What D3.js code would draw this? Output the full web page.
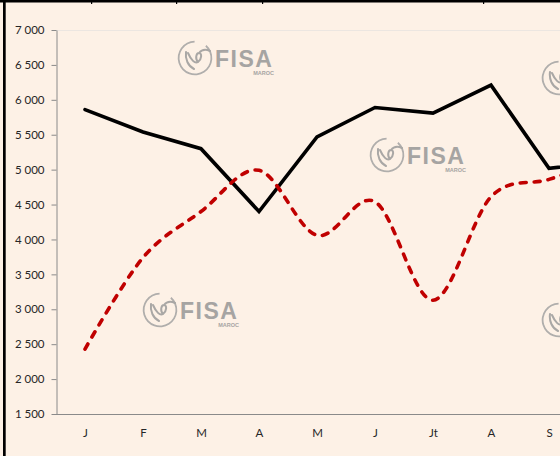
<!DOCTYPE html>
<html>
<head>
<meta charset="utf-8">
<script src="https://cdn.jsdelivr.net/npm/d3@7"></script>
<style>
  html, body { margin: 0; padding: 0; background: #fdf1e6; overflow: hidden; }
  svg { display: block; }
  .tick text { font-family: Lato, "Open Sans", sans-serif; font-size: 11.5px; fill: #262626; }
</style>
</head>
<body>
<div id="container"></div>
<script>
const months = ["J", "F", "M", "A", "M", "J", "Jt", "A", "S", "O"];
const seriesBlack = [5860, 5540, 5300, 4400, 5470, 5890, 5810, 6210, 5020, 5100];
const seriesRed = [2430, 3740, 4400, 4990, 4060, 4540, 3130, 4610, 4860, 5150];
const yTicks = [1500, 2000, 2500, 3000, 3500, 4000, 4500, 5000, 5500, 6000, 6500, 7000];

const W = 560, H = 456;
const plotLeft = 56, plotTop = 30, plotBottom = 414, step = 58;

const setAttrs = (el, attrs) =>
  Object.entries(attrs).reduce((acc, [key, val]) => acc.attr(key, val), el);

const svg = d3.select("#container").append("svg");
setAttrs(svg, { width: W, height: H });

svg.append("rect").attr("width", W).attr("height", H).attr("fill", "#fdf1e6");

// watermark logos
const logos = [[178, 40], [370, 137], [143, 292], [542, 60], [542, 302]];
const drawLogo = ([x, y]) => {
  const g = svg.append("g").attr("transform", `translate(${x},${y})`);
  const arc = d3.arc().innerRadius(15.5).outerRadius(17.3)
    .startAngle(0.55).endAngle(2 * Math.PI - 0.2);
  setAttrs(g.append("path"), { d: arc(), transform: "translate(17,18) rotate(10)", fill: "#b0aeac" });
  setAttrs(g.append("path"), {
    d: "M8,12 C7,19 10,26 16,29 M10,13 C13,20 17,24 20,22 C24,19 24,13 21,13 C18,13 17,19 20,22 M21,13 C24,9 28,9 32,11",
    fill: "none", stroke: "#a9a7a5", "stroke-width": 2, "stroke-linecap": "round"
  });
  // the logos at the right edge only show their ring
  if (x + 40 > W) return;
  setAttrs(g.append("text").text("FISA"), {
    x: 37, y: 27, "font-family": "Liberation Sans, Arial, sans-serif", "font-weight": "bold",
    "font-size": 23, "letter-spacing": 1.5, fill: "#a6a4a2"
  });
  setAttrs(g.append("text").text("MAROC"), {
    x: 96, y: 35, "text-anchor": "end", "font-family": "Liberation Sans, Arial, sans-serif",
    "font-weight": "bold", "font-size": 5.5, fill: "#a6a4a2"
  });
};
logos.forEach(drawLogo);

// sheet borders
svg.append("rect").attr("x", 0).attr("y", 0).attr("width", W).attr("height", 2.5).attr("fill", "#000");
svg.append("rect").attr("x", 3).attr("y", 0).attr("width", 2.7).attr("height", H).attr("fill", "#000");
[91, 176, 262, 483].forEach((x) =>
  svg.append("rect").attr("x", x).attr("y", 0).attr("width", 1.2).attr("height", 4).attr("fill", "#000"));

const x = d3.scalePoint().domain(d3.range(months.length))
  .range([plotLeft, plotLeft + step * months.length]).padding(0.5);
const y = d3.scaleLinear().domain([1500, 7000]).range([plotBottom, plotTop]);

// plot area top edge
setAttrs(svg.append("line"), {
  x1: plotLeft, x2: W, y1: plotTop + 0.5, y2: plotTop + 0.5, stroke: "#ece6e1", "stroke-width": 1
});

const fmt = d3.formatLocale({ decimal: ",", thousands: " ", grouping: [3] }).format(",");

const yAxis = svg.append("g").attr("transform", `translate(${plotLeft + 0.5},0)`)
  .call(d3.axisLeft(y).tickValues(yTicks).tickFormat(fmt).tickSize(5).tickPadding(7).tickSizeOuter(0));
yAxis.selectAll("line, path").attr("stroke", "#8a8a8a");

const xAxis = svg.append("g").attr("transform", `translate(0,${plotBottom + 0.5})`)
  .call(d3.axisBottom(x).tickFormat((i) => months[i]).tickSize(0).tickPadding(14).tickSizeOuter(0));
xAxis.select("path").attr("stroke", "#8a8a8a").attr("d", `M${plotLeft},0H${plotLeft + step * months.length}`);

const blackLine = d3.line().x((d, i) => x(i)).y((d) => y(d));
setAttrs(svg.append("path").datum(seriesBlack), {
  d: blackLine, fill: "none", stroke: "#000", "stroke-width": 3.6,
  "stroke-linejoin": "miter", "stroke-linecap": "round"
});

const redLine = d3.line().x((d, i) => x(i)).y((d) => y(d)).curve(d3.curveCardinal.tension(0));
setAttrs(svg.append("path").datum(seriesRed), {
  d: redLine, fill: "none", stroke: "#c00000", "stroke-width": 3.6,
  "stroke-dasharray": "6,8", "stroke-linecap": "round"
});
</script>
</body>
</html>
